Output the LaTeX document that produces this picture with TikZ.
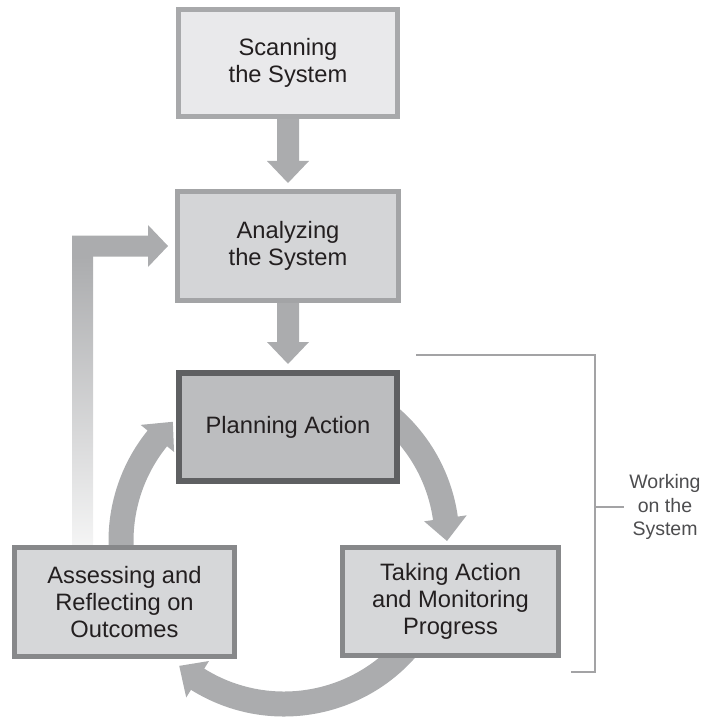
\documentclass[tikz,border=0pt]{standalone}
\usepackage{fontspec}
\setmainfont{Liberation Sans}
\usetikzlibrary{calc,backgrounds}
\definecolor{arrowc}{HTML}{ABACAE}
\definecolor{textc}{HTML}{231F20}
\definecolor{labelc}{HTML}{4D4D4F}
\definecolor{bracketc}{HTML}{A3A3A5}
\definecolor{scanfill}{HTML}{E9E9EB}
\definecolor{scandraw}{HTML}{A8A9AB}
\definecolor{anafill}{HTML}{D4D5D7}
\definecolor{anadraw}{HTML}{A3A4A6}
\definecolor{planfill}{HTML}{BCBDBF}
\definecolor{plandraw}{HTML}{5F6062}
\definecolor{lowfill}{HTML}{D6D7D9}
\definecolor{lowdraw}{HTML}{87888A}
\newcommand\cycarrow[3]{%
  \fill[arrowc] ($(cc)+(#1:175.5)$) arc[start angle=#1, end angle=#2, radius=175.5]
   -- ($(cc)+(#2:184.5)$) -- ($(cc)+(#3:163)$) -- ($(cc)+(#2:141.5)$) -- ($(cc)+(#2:150.5)$)
   arc[start angle=#2, end angle=#1, radius=150.5] -- cycle;}
\newcommand\downblock[2]{%
  \fill[arrowc] ($(#1.south)+(-11,1)$) -- ($(#2.north)+(-11,28)$) -- ($(#2.north)+(-21,28)$)
   -- ($(#2.north)+(0,6)$) -- ($(#2.north)+(21,28)$) -- ($(#2.north)+(11,28)$)
   -- ($(#1.south)+(11,1)$) -- cycle;}
\begin{document}
\begin{tikzpicture}[x=1pt,y=1pt,
  box/.style={draw, line width=5pt, align=center, inner sep=0pt, text=textc,
    font=\fontsize{23.7}{27}\selectfont},
  scanbox/.style={box, fill=scanfill, draw=scandraw},
  anabox/.style={box, fill=anafill, draw=anadraw},
  planbox/.style={box, fill=planfill, draw=plandraw, line width=6pt},
  lowbox/.style={box, fill=lowfill, draw=lowdraw},
  brk/.style={draw=bracketc, line width=2pt},
  lbl/.style={align=center, text=labelc, inner sep=0pt, font=\fontsize{19.5}{23.5}\selectfont}]
\useasboundingbox (0,0) rectangle (703,-719);
\node[scanbox, minimum width=219pt, minimum height=107pt] (scan) at (288,-63) {Scanning\\the System};
\node[anabox, minimum width=221pt, minimum height=109pt] (ana) at (288,-246) {Analyzing\\the System};
\node[planbox, minimum width=218pt, minimum height=108pt] (plan) at (288,-427) {Planning Action};
\node[lowbox, minimum width=220pt, minimum height=109pt] (assess) at (124.5,-602) {Assessing and\\Reflecting on\\Outcomes};
\node[lowbox, minimum width=216pt, minimum height=108pt] (take) at (450.5,-601.5) {Taking Action\\and Monitoring\\Progress};
\node[lbl] (work) at (665,-507) {Working\\on the\\System};
\coordinate (cc) at (284,-541);
\coordinate (fbx) at ($(assess.north)+(-42,0)$);
\coordinate (fbc) at (ana.west -| fbx);
\coordinate (b1) at (416,-355);
\coordinate (b2) at (595,-355);
\coordinate (b3) at (595,-672);
\coordinate (b4) at (571,-672);
\coordinate (bm) at (595,-507);
\begin{pgfonlayer}{background}
\downblock{scan}{ana}
\downblock{ana}{plan}
\shade[top color=arrowc, bottom color=arrowc!12] ($(fbx)+(-10.5,-3)$) rectangle ($(fbc)+(10.5,-10.5)$);
\fill[arrowc] ($(fbc)+(-10.5,-10.5)$) -- ($(fbc)+(-10.5,10.5)$) -- ($(ana.west)+(-27,10.5)$)
  -- ($(ana.west)+(-27,21)$) -- ($(ana.west)+(-7,0)$) -- ($(ana.west)+(-27,-21)$)
  -- ($(ana.west)+(-27,-10.5)$) -- cycle;
\cycarrow{52}{8}{0}
\cycarrow{-38}{-122}{-130}
\cycarrow{183}{141}{133}
\end{pgfonlayer}
\draw[brk] (b1) -- (b2) -- (b3) -- (b4);
\draw[brk] (bm) -- ($(work.west)+(-5,0)$);
\end{tikzpicture}
\end{document}
